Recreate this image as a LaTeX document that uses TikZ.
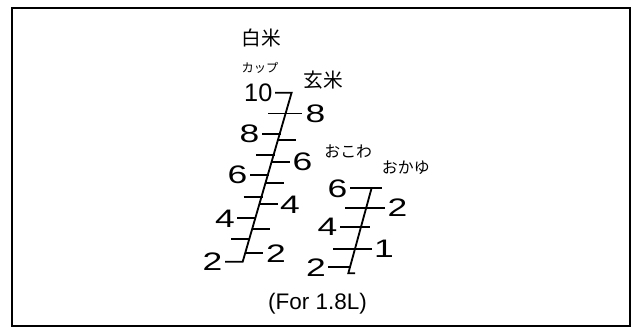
\documentclass[tikz,border=0pt]{standalone}
\usepackage{fontspec}
\setmainfont{Liberation Sans}
\newfontfamily\jpfont{Noto Sans CJK JP}
\newfontfamily\numfont[FakeStretch=1.4]{Liberation Sans}
\begin{document}
\begin{tikzpicture}[x=0.025cm, y=-0.025cm, line width=1.3pt,
  num/.style={font=\numfont\fontsize{18pt}{18pt}\selectfont, inner sep=0.5pt},
  jp/.style={font=\jpfont\fontsize{14pt}{14pt}\selectfont, inner sep=0pt},
  jpsmall/.style={font=\jpfont\fontsize{11.3pt}{11.3pt}\selectfont, inner sep=0pt}]
\useasboundingbox (0,0) rectangle (638,328);
\draw[line width=1.4pt] (12,8) rectangle (630,326);
\node[jp] (hakumai) at (261,38.3) {白米};
\node[jp, font=\jpfont\fontsize{8.7pt}{8.7pt}\selectfont] (cup) at (260,67.5) {カップ};
\node[jp] (genmai) at (323.3,80) {玄米};
\draw (275,92.7) -- (291.6,92.7) -- (242.7,261.7) -- (225,261.7);
\draw (231.2,239.3) -- (250.2,239.3);
\draw (237.4,218.3) -- (256.4,218.3);
\draw (243.5,197.3) -- (262.5,197.3);
\draw (250,175) -- (269,175);
\draw (255.9,155) -- (274.9,155);
\draw (262,134) -- (281,134);
\draw (268,113.5) -- (287,113.5);
\node[num, anchor=east] (W_2) at (224,262) {2};
\node[num, anchor=east] (W_4) at (236.4,218.3) {4};
\node[num, anchor=east] (W_6) at (249,175) {6};
\node[num, anchor=east] (W_8) at (261,134) {8};
\node[num, anchor=east, font=\fontsize{18pt}{18pt}\selectfont] (W_10) at (274,92.5) {10};
\draw (245.2,253.3) -- (263.2,253.3);
\draw (252.2,229.3) -- (270.2,229.3);
\draw (259.5,204) -- (277.5,204);
\draw (265.8,182.7) -- (283.8,182.7);
\draw (271.9,161.7) -- (289.9,161.7);
\draw (278.2,140) -- (296.2,140);
\draw (286,113.5) -- (302,113.5);
\node[num, anchor=west] (B_2) at (264.5,253.3) {2};
\node[num, anchor=west] (B_4) at (278.5,205) {4};
\node[num, anchor=west] (B_6) at (291,161.7) {6};
\node[num, anchor=west] (B_8) at (304,113.5) {8};
\node[jpsmall] (okowa) at (348.3,151.7) {おこわ};
\node[jpsmall] (okayu) at (405.8,167.5) {おかゆ};
\draw (371.7,187.7) -- (348.3,273.3) -- (355,273.3);
\draw (350,187.7) -- (381.7,187.7);
\draw (345,207.7) -- (385,207.7);
\draw (340,226.7) -- (370,226.7);
\draw (333.3,249) -- (371.7,249);
\draw (328.3,266.7) -- (349.5,266.7);
\node[num, anchor=east] (K_6) at (349,189) {6};
\node[num, anchor=west] (Y_2) at (386,207.7) {2};
\node[num, anchor=east] (K_4) at (339,227) {4};
\node[num, anchor=west] (Y_1) at (372.5,249) {1};
\node[num, anchor=east] (K_2) at (327.5,268) {2};
\node[font=\fontsize{16pt}{16pt}\selectfont] (size) at (317.5,303.3) {(For 1.8L)};
\end{tikzpicture}
\end{document}
